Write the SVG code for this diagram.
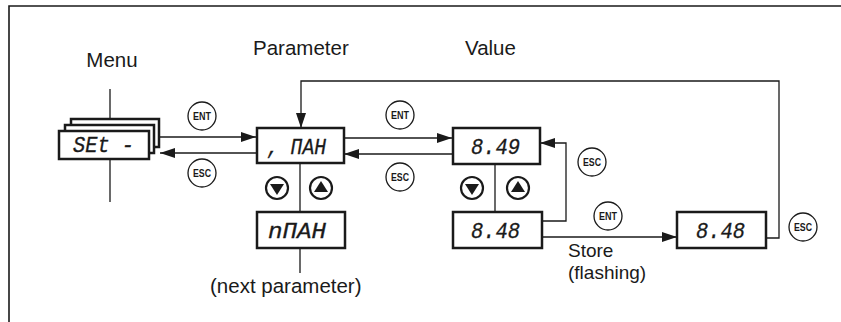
<svg xmlns="http://www.w3.org/2000/svg" width="841" height="322" viewBox="0 0 841 322">
<style>
.lbl{font-family:"Liberation Sans",Arial,sans-serif;font-size:20.5px;fill:#1a1a1a}
.lbs{font-family:"Liberation Sans",Arial,sans-serif;font-size:19px;fill:#1a1a1a}
.box{fill:#fff;stroke:#1a1a1a;stroke-width:2.5}
.seg{font-family:"Liberation Mono","DejaVu Sans Mono",monospace;font-style:italic;font-size:22px;fill:#1a1a1a;stroke:#1a1a1a;stroke-width:0.3}
.btn{fill:#fff;stroke:#1a1a1a;stroke-width:1.3}
.btxt{font-family:"Liberation Sans",Arial,sans-serif;font-weight:bold;font-size:11px;fill:#1a1a1a}
.key{fill:#fff;stroke:#1a1a1a;stroke-width:2.2}
.tri{fill:#1a1a1a}
.ln{fill:none;stroke:#1a1a1a;stroke-width:1.3}
</style>
<defs>
<marker id="ah" markerWidth="15" markerHeight="10" refX="15" refY="5" orient="auto" markerUnits="userSpaceOnUse"><path d="M0,0 L15,5 L0,10 z" fill="#1a1a1a"/></marker>
</defs>
<g id="frame"><path d="M9 322 V6 H841" fill="none" stroke="#1a1a1a" stroke-width="1.6"/></g>
<g id="titles">
<text class="lbl" x="112" y="67" text-anchor="middle">Menu</text>
<text class="lbl" x="253" y="55">Parameter</text>
<text class="lbl" x="465" y="55">Value</text>
</g>
<g id="connectors">
<path class="ln" d="M110 89 V119"/>
<path class="ln" d="M110 159 V202"/>
<path class="ln" d="M159 137 H256" marker-end="url(#ah)"/>
<path class="ln" d="M256 153 H160" marker-end="url(#ah)"/>
<path class="ln" d="M344 138 H452" marker-end="url(#ah)"/>
<path class="ln" d="M452 154 H344" marker-end="url(#ah)"/>
<path class="ln" d="M300 163 V212"/>
<path class="ln" d="M300 248 V273"/>
<path class="ln" d="M495 164 V212"/>
<path class="ln" d="M542 221 H566 V143 H540" marker-end="url(#ah)"/>
<path class="ln" d="M542 237 H677" marker-end="url(#ah)"/>
<path class="ln" d="M766 238 H779 V81 H301 V128" marker-end="url(#ah)"/>
</g>
<g id="menu-set">
<rect class="box" x="71" y="119" width="88" height="28"/>
<rect class="box" x="65" y="125" width="89" height="28"/>
<rect class="box" x="59" y="131" width="90" height="28"/>
<text class="seg" x="73" y="152" textLength="61" lengthAdjust="spacingAndGlyphs">SEt -</text>
</g>
<g id="param-imax">
<rect class="box" x="257" y="128" width="87" height="35"/>
<text class="seg" x="267" y="154" textLength="59" lengthAdjust="spacingAndGlyphs">, ΠAH</text>
</g>
<g id="param-nmax">
<rect class="box" x="257" y="212" width="88" height="36"/>
<text class="seg" x="268" y="238" textLength="58" lengthAdjust="spacingAndGlyphs">nΠAH</text>
</g>
<g id="value-849">
<rect class="box" x="453" y="128" width="87" height="36"/>
<text class="seg" x="471" y="154" textLength="49" lengthAdjust="spacingAndGlyphs">8.49</text>
</g>
<g id="value-848">
<rect class="box" x="453" y="212" width="89" height="36"/>
<text class="seg" x="471" y="238" textLength="49" lengthAdjust="spacingAndGlyphs">8.48</text>
</g>
<g id="stored-848">
<rect class="box" x="677" y="212" width="89" height="36"/>
<text class="seg" x="696" y="238" textLength="49" lengthAdjust="spacingAndGlyphs">8.48</text>
</g>
<g id="btn-ent1"><circle class="btn" cx="202" cy="116" r="14"/><text class="btxt" x="202" y="120" text-anchor="middle" textLength="18" lengthAdjust="spacingAndGlyphs">ENT</text></g>
<g id="btn-esc1"><circle class="btn" cx="202" cy="173" r="14"/><text class="btxt" x="202" y="177" text-anchor="middle" textLength="18" lengthAdjust="spacingAndGlyphs">ESC</text></g>
<g id="btn-ent2"><circle class="btn" cx="400" cy="115" r="14"/><text class="btxt" x="400" y="119" text-anchor="middle" textLength="18" lengthAdjust="spacingAndGlyphs">ENT</text></g>
<g id="btn-esc2"><circle class="btn" cx="400" cy="177" r="14"/><text class="btxt" x="400" y="181" text-anchor="middle" textLength="18" lengthAdjust="spacingAndGlyphs">ESC</text></g>
<g id="btn-esc3"><circle class="btn" cx="592" cy="162" r="14"/><text class="btxt" x="592" y="166" text-anchor="middle" textLength="18" lengthAdjust="spacingAndGlyphs">ESC</text></g>
<g id="btn-ent3"><circle class="btn" cx="608" cy="216" r="14"/><text class="btxt" x="608" y="220" text-anchor="middle" textLength="18" lengthAdjust="spacingAndGlyphs">ENT</text></g>
<g id="btn-esc4"><circle class="btn" cx="803" cy="227" r="14"/><text class="btxt" x="803" y="231" text-anchor="middle" textLength="18" lengthAdjust="spacingAndGlyphs">ESC</text></g>
<g id="key-down1"><circle class="key" cx="277" cy="188" r="11"/><path class="tri" d="M270 184 H284 L277 195 z"/></g>
<g id="key-up1"><circle class="key" cx="321" cy="188" r="11"/><path class="tri" d="M314 192 H328 L321 181 z"/></g>
<g id="key-down2"><circle class="key" cx="472" cy="188" r="11"/><path class="tri" d="M465 184 H479 L472 195 z"/></g>
<g id="key-up2"><circle class="key" cx="518" cy="188" r="11"/><path class="tri" d="M511 192 H525 L518 181 z"/></g>
<g id="labels">
<text class="lbl" x="210" y="293">(next parameter)</text>
<text class="lbs" x="568" y="257">Store</text>
<text class="lbs" x="568" y="279">(flashing)</text>
</g>
</svg>
